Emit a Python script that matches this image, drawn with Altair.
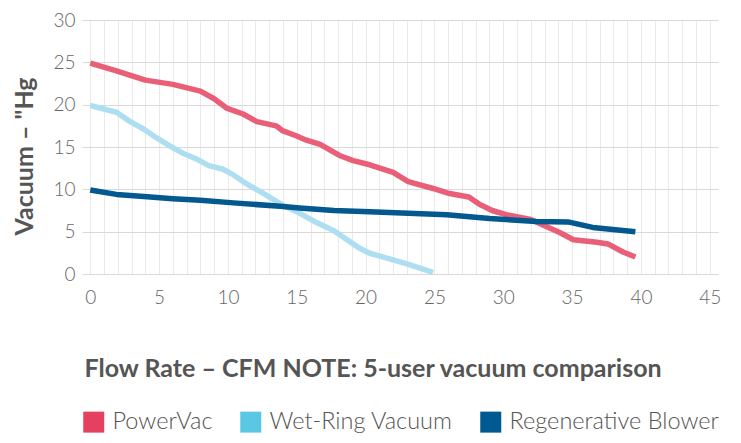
import altair as alt
import pandas as pd

series_names = ["PowerVac", "Wet-Ring Vacuum", "Regenerative Blower"]
line_colors = ["#E95F78", "#AEDFF0", "#03588F"]
legend_colors = ["#E5405F", "#5BC8E3", "#005A91"]

powervac_x = [0, 1.9, 4.0, 6.0, 8.0, 9.0, 9.9, 11.1, 12.1, 13.5, 14.0, 15.0, 15.7, 16.7, 18.1, 19.1, 20.3,
              22.0, 23.1, 24.9, 26.1, 27.5, 28.3, 29.2, 30.2, 32.0, 33.0, 34.1, 35.1, 36.8, 37.6, 38.7, 39.6]
powervac_y = [24.9, 24.0, 22.9, 22.4, 21.6, 20.7, 19.6, 18.9, 18.0, 17.5, 16.9, 16.3, 15.8, 15.3, 14.0, 13.4, 12.9,
              12.0, 10.9, 10.1, 9.5, 9.1, 8.2, 7.5, 7.0, 6.45, 5.7, 4.9, 4.05, 3.75, 3.55, 2.6, 2.0]

wetring_x = [0, 1.9, 2.9, 3.9, 4.8, 5.8, 6.8, 7.7, 8.6, 9.6, 10.4, 11.4, 12.6, 14.0, 15.2, 16.4, 17.7, 18.6,
             19.6, 20.3, 21.3, 23.0, 24.9]
wetring_y = [19.9, 19.1, 18.0, 17.1, 16.1, 15.1, 14.2, 13.6, 12.8, 12.4, 11.7, 10.6, 9.5, 8.1, 7.2, 6.1, 5.1, 4.1,
             3.0, 2.45, 2.0, 1.2, 0.2]

regen_x = [0, 1.9, 3.9, 6.0, 8.0, 10.4, 13.8, 15.2, 17.7, 20.3, 25.9, 29.0, 32.4, 34.7, 36.5, 39.6]
regen_y = [9.93, 9.4, 9.15, 8.9, 8.7, 8.4, 8.0, 7.8, 7.5, 7.35, 7.0, 6.55, 6.2, 6.15, 5.5, 5.0]

x_ticks = list(range(0, 46))
y_ticks = [0, 5, 10, 15, 20, 25, 30]

rows = []
for name, xs, ys in zip(series_names, [powervac_x, wetring_x, regen_x], [powervac_y, wetring_y, regen_y]):
    for i, (xv, yv) in enumerate(zip(xs, ys)):
        rows.append({"series": name, "key": name, "order": i, "flow": xv, "vac": yv})
df = pd.DataFrame(rows)

FONT = "Lato"

x_enc = alt.X(
    "flow:Q",
    scale=alt.Scale(domain=[-0.6, 45.6], nice=False, zero=False),
    axis=alt.Axis(
        values=x_ticks,
        labelExpr="datum.value % 5 == 0 ? datum.label : ''",
        title="Flow Rate – CFM NOTE: 5-user vacuum comparison",
        titleFont=FONT, titleFontSize=25, titleFontWeight="bold", titleColor="#555555",
        titleAnchor="start", titleAlign="left", titleBaseline="middle",
        titleX=2, titleY=94,
        labelFont=FONT, labelFontSize=19, labelFontWeight=300, labelColor="#666666",
        labelPadding=14, ticks=False, tickSize=0, domain=False,
        grid=True, gridColor="#E9E9E9", gridWidth=1, labelFlush=False, labelOverlap=False,
    ),
)
y_enc = alt.Y(
    "vac:Q",
    scale=alt.Scale(domain=[0, 30], nice=False),
    axis=alt.Axis(
        values=y_ticks,
        title="Vacuum – \"Hg",
        titleFont=FONT, titleFontSize=25, titleFontWeight="bold", titleColor="#555555",
        titleAngle=270, titleAlign="center", titleBaseline="middle",
        titleX=-58, titleY=136,
        labelFont=FONT, labelFontSize=19, labelFontWeight=300, labelColor="#666666",
        labelPadding=7, ticks=False, tickSize=0, domain=False,
        grid=True, gridColor="#D9D9D9", gridWidth=1,
    ),
)

lines = alt.Chart(df).mark_line(strokeWidth=5.5, strokeJoin="round").encode(
    x=x_enc,
    y=y_enc,
    stroke=alt.Stroke("series:N", scale=alt.Scale(domain=series_names, range=line_colors), legend=None),
    order="order:Q",
)

legend_pts = alt.Chart(df).mark_point(filled=True, opacity=0, size=1).encode(
    x=x_enc,
    y=y_enc,
    fill=alt.Fill(
        "key:N",
        scale=alt.Scale(domain=series_names, range=legend_colors),
        legend=alt.Legend(
            title=None, orient="none", legendX=0, legendY=390, direction="horizontal",
            symbolType="square", symbolSize=441, symbolOpacity=1, symbolStrokeWidth=0,
            labelFont=FONT, labelFontSize=23.5, labelFontWeight=300, labelColor="#555555",
            labelOffset=7, columnPadding=26, labelLimit=400,
        ),
    ),
)

chart = alt.layer(lines, legend_pts).resolve_scale(fill="independent", stroke="independent").properties(
    width=636, height=254,
    autosize=alt.AutoSizeParams(type="none"),
    padding={"left": 74, "top": 12, "right": 15, "bottom": 160},
).configure_view(stroke=None)

chart.save("out.html", embed_options={"renderer": "svg", "actions": False})
